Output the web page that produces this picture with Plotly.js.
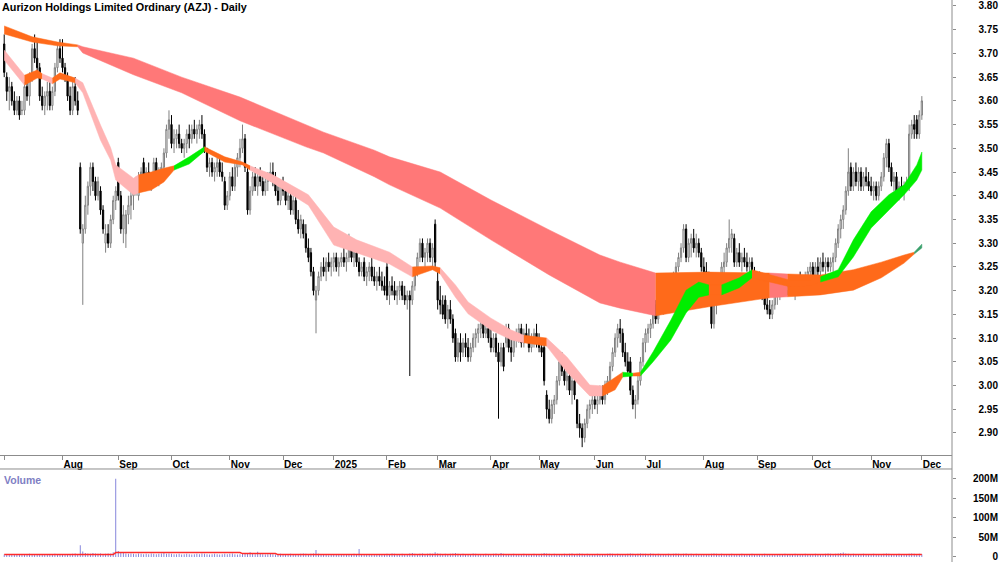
<!DOCTYPE html>
<html><head><meta charset="utf-8">
<script src="https://cdn.plot.ly/plotly-3.0.1.min.js"></script>
<style>html,body{margin:0;padding:0;background:#fff;}#chart{width:1000px;height:562px;}</style>
</head><body><div id="chart"></div>
<script>
const chartTitle = 'Aurizon Holdings Limited Ordinary (AZJ) - Daily';
// trading-day index of the first session of each month (Jul 2024 .. Dec 2025)
const monthTickIdx = [0,23,45,66,89,110,130,151,171,192,211,233,253,276,297,319,342,362];
const monthTickText = ['','Aug','Sep','Oct','Nov','Dec','2025','Feb','Mar','Apr','May','Jun','Jul','Aug','Sep','Oct','Nov','Dec'];

// daily prices in cents
const openC = [
372,365,362,363,360,358,360,358,358,363,361,365,371,369,367,361,359,361,362,359,362,367,371,
369,367,365,361,358,363,360,346,330,333,338,342,346,343,340,341,337,330,332,330,335,339,
347,340,333,332,336,338,340,341,340,344,347,343,345,343,344,347,343,345,346,349,354,
355,351,352,353,351,350,351,353,352,354,353,354,355,353,350,346,347,345,346,347,345,343,338,
340,344,342,346,348,350,352,345,337,341,344,342,344,343,341,343,344,345,343,341,339,
342,341,339,340,337,339,335,333,334,332,329,328,324,318,320,323,325,324,326,325,
326,327,325,326,327,326,327,330,327,328,326,324,326,323,324,325,323,322,323,322,321,
325,319,321,320,319,320,321,319,318,319,318,321,324,327,330,327,328,330,327,334,
322,318,317,318,314,316,314,311,306,309,307,309,308,306,308,310,311,312,313,311,312,
310,308,310,307,305,308,309,312,308,307,310,311,312,309,311,310,308,310,311,
309,308,308,298,295,293,296,297,301,305,303,301,302,299,301,297,292,291,289,292,295,296,
297,296,297,299,297,300,301,304,307,310,312,311,307,305,305,299,296,297,301,305,
309,311,312,313,317,314,316,318,317,319,321,322,323,325,327,329,333,327,330,331,329,330,328,
325,324,322,322,313,317,318,322,325,326,329,331,331,326,328,326,327,326,325,326,324,
322,323,320,319,317,316,315,317,319,320,321,322,320,321,322,320,321,322,321,322,323,324,
325,323,325,324,326,325,326,325,326,327,330,333,335,337,341,346,342,345,343,345,342,344,343,
342,341,342,340,342,344,348,351,346,343,344,341,342,341,342,342,353,355,356,353,
357];
const highC = [
374,366,365,364,362,361,361,360,364,365,366,372,374,373,368,363,362,364,364,363,368,372,373,
373,368,366,363,364,365,362,347,334,340,343,347,347,344,344,342,338,334,334,336,340,342,
348,341,338,337,340,341,343,344,345,346,348,346,347,345,348,348,346,347,350,355,358,
357,354,354,355,352,352,354,355,355,356,355,356,357,354,350,348,348,347,348,348,347,344,341,
345,346,347,349,352,355,353,346,342,345,346,345,346,345,344,345,347,347,345,342,343,
344,342,341,341,340,340,337,336,335,334,331,329,325,321,324,326,327,327,328,327,
328,328,327,328,329,328,332,331,329,329,327,326,327,325,326,327,325,324,325,324,323,
326,322,323,322,321,322,322,321,320,320,322,325,328,331,331,329,331,331,330,335,
324,321,319,319,317,318,315,312,310,311,310,311,310,309,311,312,313,314,314,313,314,
312,311,311,309,309,309,313,313,310,311,312,313,313,312,313,312,311,312,313,
311,310,309,299,297,297,298,302,306,307,305,304,304,302,302,297,294,292,293,296,297,298,
298,298,300,300,301,302,305,308,311,313,314,312,309,307,306,300,298,302,306,310,
312,313,314,317,318,317,319,319,320,322,323,324,326,328,330,334,334,331,332,333,332,331,329,
327,326,324,323,318,320,323,326,328,330,335,333,332,329,330,328,329,328,327,327,325,
324,324,322,320,319,318,318,320,321,322,323,323,322,323,323,322,323,324,323,324,325,326,
326,326,327,327,328,327,327,327,328,331,334,336,338,342,350,347,346,347,346,346,345,346,345,
344,343,343,343,345,349,352,352,347,345,345,343,344,343,344,355,356,357,357,358,
361];
const lowC = [
365,360,358,359,357,357,356,357,357,360,359,364,368,366,360,358,357,358,358,358,361,366,368,
366,364,360,357,357,359,357,332,317,332,336,340,341,339,339,336,332,328,329,329,334,337,
339,332,330,329,334,335,337,340,339,341,342,341,342,341,343,342,342,343,345,348,352,
350,349,350,350,349,348,349,350,351,352,351,352,352,349,345,344,344,343,344,344,343,337,337,
339,341,341,344,346,349,345,336,336,340,341,340,342,340,340,341,343,342,340,338,338,
340,338,337,336,336,334,332,331,331,328,326,323,319,311,319,322,323,322,324,323,
324,324,323,325,325,324,326,326,325,325,323,323,322,321,322,322,321,320,321,320,319,
318,317,319,318,317,318,318,317,316,302,317,320,323,326,326,325,326,326,325,325,
316,315,314,313,312,313,309,305,305,305,306,306,305,305,307,308,309,310,310,310,309,
307,307,306,293,304,303,308,307,305,306,308,309,308,308,309,307,307,308,308,
307,306,300,293,292,292,294,296,300,302,300,299,298,296,297,291,289,287,288,291,293,294,
295,294,296,296,296,298,300,303,306,308,309,306,304,302,298,295,293,296,300,304,
307,309,310,312,313,313,315,315,316,318,319,320,322,324,326,328,326,326,327,328,327,327,324,
322,321,320,312,312,315,317,321,323,325,328,328,325,325,325,324,325,324,323,323,321,
320,319,318,316,315,314,314,316,317,318,319,319,319,319,319,318,320,320,319,320,321,322,
322,322,323,323,324,323,324,324,324,326,329,331,333,336,340,341,341,342,341,341,341,342,341,
340,339,339,339,341,343,346,345,342,341,340,339,340,339,341,341,352,352,352,352,
356];
const closeC = [
366,362,363,360,358,360,357,358,363,361,365,371,369,367,361,359,361,362,359,362,367,371,369,
367,365,361,358,363,360,358,333,333,338,342,346,343,340,343,337,333,332,330,335,339,341,
340,333,336,336,338,340,341,343,344,345,343,345,343,344,347,343,345,346,349,354,356,
351,352,353,351,350,351,353,352,354,353,354,355,353,350,346,347,345,346,347,345,344,338,340,
344,342,346,348,350,352,346,337,341,344,342,344,343,341,343,344,345,343,341,339,342,
341,339,340,337,339,335,333,335,332,329,327,324,320,320,323,325,324,326,325,326,
327,325,326,327,326,327,330,327,328,326,324,325,323,324,325,323,322,323,322,321,320,
319,321,320,319,320,321,319,318,319,318,321,324,327,330,327,328,330,327,329,326,
318,317,315,314,316,314,310,306,309,307,309,308,306,308,310,311,312,313,311,312,310,
308,310,307,305,308,304,312,308,307,310,311,312,309,311,310,308,310,311,309,
308,307,301,295,293,296,297,301,305,303,301,302,299,301,298,292,291,289,292,295,296,297,
296,297,299,297,300,301,304,307,310,312,311,307,305,303,299,296,297,301,305,309,
311,312,313,316,314,316,318,317,319,321,322,323,325,327,329,333,327,330,331,329,330,328,325,
324,322,321,313,317,318,322,325,326,329,331,332,326,328,326,327,326,325,326,324,322,
321,320,319,317,316,315,317,319,320,321,322,320,321,322,320,321,322,321,322,323,324,325,
323,325,324,326,325,326,325,326,327,330,333,335,337,341,345,342,345,343,345,342,344,343,342,
341,342,340,342,344,348,351,346,343,344,341,342,341,342,343,353,355,354,353,357,
360];
// daily volume in millions
const volumeM = [
6,5,7,6,5,6,7,5,6,6,8,7,6,5,6,7,6,5,6,7,8,6,7,
7,6,6,7,8,9,7,30,14,10,9,8,10,9,8,9,7,8,9,8,12,200,
15,12,10,9,8,9,8,7,9,8,7,8,7,9,8,7,8,9,10,8,9,
8,7,7,8,6,7,8,7,6,7,8,7,9,8,7,6,7,8,7,6,7,8,7,
8,9,7,6,7,8,9,10,12,8,7,13,8,7,6,7,8,7,6,7,8,
7,6,7,8,7,6,7,8,9,8,7,8,9,18,8,7,6,5,4,6,
6,5,6,7,6,7,6,7,8,7,20,7,6,7,6,5,6,7,6,7,6,
8,7,9,8,7,6,8,7,6,9,10,8,7,8,9,7,8,9,8,12,
9,8,7,8,7,8,9,10,8,7,8,7,6,7,9,8,7,6,7,8,7,
7,8,9,7,10,8,7,6,7,8,7,6,7,8,7,6,7,8,7,
7,8,10,9,8,7,8,7,6,7,8,7,8,9,7,8,9,8,7,8,7,6,
7,8,7,6,7,8,9,8,7,8,7,6,7,8,9,8,7,8,9,8,
8,7,9,8,7,8,7,6,7,8,7,8,9,8,7,8,9,7,8,7,8,6,7,
7,6,7,8,9,8,7,8,7,6,7,8,7,6,7,8,7,6,7,8,7,
7,6,7,8,7,6,5,6,7,6,7,8,7,6,7,8,7,6,7,8,6,7,
7,8,7,6,7,8,9,8,7,8,9,10,11,9,8,7,8,7,6,7,8,7,6,
7,8,7,6,7,8,9,8,7,6,7,8,7,6,7,8,9,8,7,8,
7];
// volume average line (millions)
const volAvgIdx = [0,43,44,93,94,107,108,186,187,275,276,362];
const volAvgM   = [6,6,11,11,8.5,8.5,6,6,7.5,7.5,6,6];

// short-term band (edges in price)
const shortIdx = [0,8,13,15,19,22,28,31,38,42,44,51,53,58,63,67,73,79,87,94,97,106,120,130,139,152,161,169,172,178,183,192,200,205,214,222,231,236,241,244,248,251,256,263,269,274,278,283,290,295,302,310,318,322,329,335,342,349,355,360,362];
const shortHi = [3.707,3.654,3.665,3.657,3.648,3.659,3.648,3.638,3.549,3.501,3.465,3.437,3.444,3.450,3.458,3.463,3.482,3.503,3.482,3.471,3.463,3.444,3.402,3.334,3.307,3.281,3.250,3.252,3.248,3.212,3.176,3.142,3.117,3.106,3.100,3.060,3.001,2.999,3.018,3.028,3.026,3.028,3.071,3.138,3.201,3.218,3.212,3.212,3.227,3.244,3.233,3.222,3.222,3.229,3.244,3.307,3.366,3.402,3.423,3.465,3.492];
const shortLo = [3.686,3.633,3.648,3.646,3.636,3.646,3.638,3.617,3.517,3.475,3.433,3.402,3.406,3.412,3.429,3.454,3.467,3.494,3.471,3.465,3.454,3.427,3.380,3.296,3.279,3.256,3.229,3.244,3.235,3.186,3.151,3.117,3.096,3.090,3.083,3.028,2.978,2.978,2.991,3.018,3.020,3.020,3.050,3.096,3.153,3.186,3.191,3.191,3.206,3.227,3.218,3.208,3.210,3.218,3.229,3.271,3.332,3.370,3.402,3.433,3.454];
const shortBreaks = [0,8,15,19,28,53,67,79,97,161,172,205,214,236,244,248,251,278,283,295,322,362];
const shortState = ['down','flat','down','flat','down','flat','up','flat','down','flat','down','flat','down','flat','up','flat','up','flat','up','flat','up'];

// long-term band (edges in price)
const longIdx = [0,11,21,29,31,51,70,93,119,126,146,152,172,192,215,235,243,257,278,302,309,322,335,346,355,359,362];
const longHi = [3.758,3.735,3.724,3.718,3.714,3.690,3.650,3.608,3.549,3.534,3.496,3.482,3.450,3.391,3.328,3.275,3.260,3.237,3.239,3.237,3.235,3.233,3.244,3.260,3.275,3.281,3.298];
const longLo = [3.741,3.724,3.716,3.714,3.701,3.655,3.617,3.558,3.503,3.490,3.440,3.423,3.374,3.307,3.233,3.174,3.163,3.147,3.166,3.185,3.187,3.191,3.201,3.227,3.258,3.277,3.290];
const longBreaks = [0,29,257,302,309,359,362];
const longState = ['flat','down','flat','down','flat','up'];

const shortColors = {down:'#ffb3b3', flat:'#ff6a1a', up:'#00ee00'};
const longColors  = {down:'#ff7878', flat:'#ff6a1a', up:'#3aa06c'};

const FONT = 'Liberation Sans, Arial, sans-serif';
const traces = [];

function bandTraces(idx, hi, lo, breaks, states, colors) {
  for (let s = 0; s < states.length; s++) {
    const a = breaks[s], b = breaks[s+1];
    const xs = [], ys = [], yl = [];
    for (let i = 0; i < idx.length; i++) {
      if (idx[i] >= a && idx[i] <= b) { xs.push(idx[i]); ys.push(hi[i]); yl.push(lo[i]); }
    }
    const col = colors[states[s]];
    traces.push({
      type:'scatter', mode:'lines', x: xs.concat(xs.slice().reverse()),
      y: ys.concat(yl.slice().reverse()), fill:'toself', fillcolor: col,
      line:{color: col, width: 0.5}, hoverinfo:'skip', xaxis:'x', yaxis:'y'
    });
  }
}
bandTraces(longIdx, longHi, longLo, longBreaks, longState, longColors);
bandTraces(shortIdx, shortHi, shortLo, shortBreaks, shortState, shortColors);

const n = Math.min(openC.length, highC.length, lowC.length, closeC.length);
const dayIdx = [];
for (let i = 0; i < n; i++) dayIdx.push(i);
traces.push({
  type:'candlestick', x: dayIdx,
  open: openC.slice(0,n).map(v=>v/100), high: highC.slice(0,n).map(v=>v/100),
  low: lowC.slice(0,n).map(v=>v/100), close: closeC.slice(0,n).map(v=>v/100),
  increasing:{line:{color:'#808080', width:1}, fillcolor:'#ffffff'},
  decreasing:{line:{color:'#000000', width:1}, fillcolor:'#000000'},
  whiskerwidth:0, hoverinfo:'skip', xaxis:'x', yaxis:'y'
});

const vIdx = volumeM.map((v,i)=>i);
traces.push({
  type:'bar', x: vIdx, y: volumeM.map(v=>v*1e6), width:0.35,
  marker:{color:'#7878d8', line:{width:0}}, hoverinfo:'skip', xaxis:'x2', yaxis:'y2'
});
traces.push({
  type:'scatter', mode:'lines', x: volAvgIdx, y: volAvgM.map(v=>v*1e6),
  line:{color:'#ff2a2a', width:1.5, shape:'linear'}, hoverinfo:'skip', xaxis:'x2', yaxis:'y2'
});
// helpers so the tick-only overlay axes get drawn
traces.push({type:'scatter', mode:'markers', x:[0], y:[3.0], marker:{opacity:0}, hoverinfo:'skip', xaxis:'x', yaxis:'y3'});
traces.push({type:'scatter', mode:'markers', x:[0], y:[0], marker:{opacity:0}, hoverinfo:'skip', xaxis:'x2', yaxis:'y4'});

const xRange = [-1.66, 373.9];
const priceRange = [2.8535, 3.8126];
const volRange = [-13e6, 225e6];
const tickFont = {family: FONT, size: 10, color:'#000', weight:'bold'};
const priceDomain = [0.1904, 1];
const volDomain = [0, 0.1655];
const volTickVals = [0, 50e6, 100e6, 150e6, 200e6];
const volTickText = ['0','50M','100M','150M','200M'];

const layout = {
  width:1000, height:562, margin:{l:0, r:0, t:0, b:0},
  paper_bgcolor:'#ffffff', plot_bgcolor:'#ffffff', showlegend:false,
  title:{text: chartTitle, x:0.002, xref:'paper', xanchor:'left', y:0.994, yref:'container', yanchor:'top',
         font:{family: FONT, size:10.8, color:'#000', weight:'bold'}},
  xaxis:{domain:[0,0.952], range:xRange, autorange:false, anchor:'y', tickmode:'array', tickvals: monthTickIdx, ticktext: monthTickText,
         ticks:'outside', ticklen:4, tickcolor:'#8c8c8c', showline:true, linecolor:'#8c8c8c', linewidth:1,
         showgrid:false, zeroline:false, ticklabelposition:'outside right', tickfont: tickFont,
         rangeslider:{visible:false}},
  xaxis2:{domain:[0,0.952], range:xRange, autorange:false, anchor:'y2', showticklabels:false, ticks:'', showline:false,
          showgrid:false, zeroline:false},
  yaxis:{domain: priceDomain, range: priceRange, anchor:'free', position:0.998, side:'left',
         tick0:2.9, dtick:0.05, tickformat:'.2f', ticks:'', showline:false, showgrid:false, zeroline:false,
         tickfont: tickFont},
  yaxis3:{domain: priceDomain, range: priceRange, overlaying:'y', anchor:'x', side:'right',
          tick0:2.9, dtick:0.05, ticks:'outside', ticklen:3, tickcolor:'#8c8c8c', showticklabels:false,
          showline:false, showgrid:false, zeroline:false},
  yaxis2:{domain: volDomain, range: volRange, anchor:'free', position:0.998, side:'left',
          tickmode:'array', tickvals: volTickVals, ticktext: volTickText, ticks:'', showline:false,
          showgrid:false, zeroline:false, tickfont: tickFont, ticklabeloverflow:'allow'},
  yaxis4:{domain: volDomain, range: volRange, overlaying:'y2', anchor:'x2', side:'right',
          tickmode:'array', tickvals: volTickVals, ticks:'outside', ticklen:3, tickcolor:'#8c8c8c',
          showticklabels:false, showline:false, showgrid:false, zeroline:false},
  shapes:[
    {type:'line', xref:'paper', yref:'paper', x0:0.952, x1:0.952, y0:0, y1:1, line:{color:'#8c8c8c', width:1}},
    {type:'line', xref:'paper', yref:'paper', x0:0, x1:0.952, y0:volDomain[1], y1:volDomain[1], line:{color:'#8c8c8c', width:1}}
  ],
  annotations:[
    {text:'Volume', xref:'paper', yref:'paper', x:0.002, y:volDomain[1]-0.005, xanchor:'left', yanchor:'top',
     showarrow:false, font:{family: FONT, size:10.5, color:'#8080c4', weight:'bold'}}
  ]
};

Plotly.newPlot('chart', traces, layout, {staticPlot:true, displayModeBar:false});
</script>
</body></html>
